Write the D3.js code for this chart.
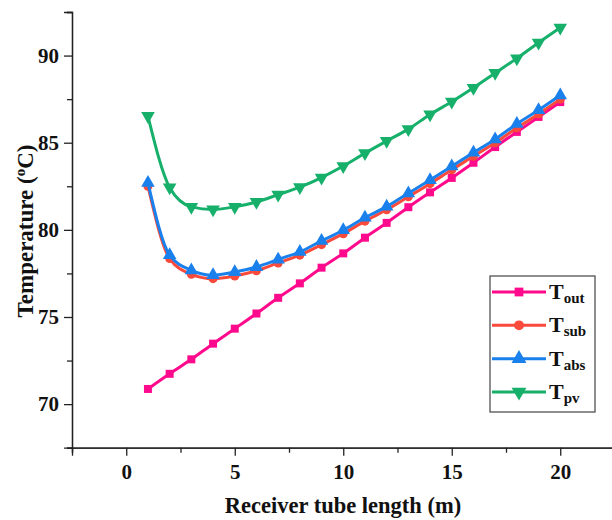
<!DOCTYPE html>
<html>
<head>
<meta charset="utf-8">
<script src="https://cdn.jsdelivr.net/npm/d3@7"></script>
<style>
  html, body { margin: 0; padding: 0; background: #fff; }
  svg { display: block; }
  text { font-family: "Liberation Serif", "Times New Roman", serif; font-weight: bold; fill: #111; }
</style>
</head>
<body>
<svg id="chart" width="612" height="520"></svg>
<script>
// ---- data ----
const lengths = [1,2,3,4,5,6,7,8,9,10,11,12,13,14,15,16,17,18,19,20];
const tOut = [70.87,71.74,72.57,73.47,74.33,75.2,76.1,76.93,77.83,78.65,79.55,80.4,81.3,82.15,82.98,83.85,84.75,85.62,86.48,87.33];
const tSub = [82.5,78.35,77.45,77.2,77.35,77.65,78.1,78.55,79.15,79.78,80.5,81.15,81.9,82.65,83.45,84.22,85.0,85.85,86.65,87.5];
const tAbs = [82.7,78.55,77.68,77.4,77.58,77.87,78.3,78.74,79.37,79.98,80.7,81.33,82.1,82.86,83.65,84.43,85.2,86.08,86.87,87.72];
const tPv  = [86.53,82.43,81.32,81.17,81.32,81.6,82.02,82.45,83.0,83.66,84.4,85.1,85.78,86.62,87.35,88.15,89.0,89.84,90.74,91.6];
const seriesNames = ["out","sub","abs","pv"];
const xMajorTicks = [0,5,10,15,20];
const xMinorTicks = [-2.5,2.5,7.5,12.5,17.5,22.5];
const yMajorTicks = [70,75,80,85,90];
const yMinorTicks = [67.5,72.5,77.5,82.5,87.5,92.5];
const xLabel = "Receiver tube length (m)";

// ---- styles ----
const colors = ["#ff0a8c", "#f94a3c", "#1a80ec", "#16b06b"];
const shapes = [d3.symbolSquare, d3.symbolCircle, d3.symbolTriangle, d3.symbolTriangle];
const sizes = [64, 64, 80, 80];
const rotations = [0, 0, 0, 180];

const svg = d3.select("#chart");
const x = d3.scaleLinear().domain([-2.5, 22.5]).range([72, 614.5]);
const y = d3.scaleLinear().domain([67.5, 92.5]).range([447.7, 12]);

// axes
const gx = svg.append("g").attr("transform", `translate(0,${y(67.5)})`);
gx.call(d3.axisBottom(x).tickValues(xMinorTicks).tickSize(5).tickFormat(""));
gx.call(g => g.append("g").call(d3.axisBottom(x).tickValues(xMajorTicks).tickSize(8).tickPadding(8)));
const gy = svg.append("g").attr("transform", `translate(${x(-2.5)},0)`);
gy.call(d3.axisLeft(y).tickValues(yMinorTicks).tickSize(5).tickFormat(""));
gy.call(g => g.append("g").call(d3.axisLeft(y).tickValues(yMajorTicks).tickSize(8).tickPadding(5)));
svg.selectAll(".domain").attr("stroke", "#222").attr("stroke-width", 1.3);
svg.selectAll(".tick line").attr("stroke", "#222").attr("stroke-width", 1.3);
svg.selectAll(".tick text").style("font-size", "21px").style("font-family", "Liberation Serif, serif").style("font-weight", "bold").attr("fill", "#111");

// axis titles
svg.append("text").attr("x", 343).attr("y", 513).attr("text-anchor", "middle")
  .style("font-size", "22.5px").text(xLabel);
const yt = svg.append("text").attr("transform", "translate(33,231) rotate(-90)")
  .attr("text-anchor", "middle").style("font-size", "23px");
yt.append("tspan").text("Temperature (");
yt.append("tspan").attr("dy", -8).style("font-size", "15px").text("o");
yt.append("tspan").attr("dy", 8).text("C)");

// series
const allSeries = [tOut, tSub, tAbs, tPv];
const line = d3.line().x((d, i) => x(lengths[i])).y(d => y(d)).curve(d3.curveMonotoneX);
allSeries.forEach((vals, k) => {
  const g = svg.append("g");
  g.append("path").datum(vals).attr("d", line).attr("fill", "none")
    .attr("stroke", colors[k]).attr("stroke-width", 3);
  g.selectAll("path.m").data(vals).join("path").attr("class", "m")
    .attr("d", d3.symbol().type(shapes[k]).size(sizes[k]))
    .attr("transform", (d, i) => `translate(${x(lengths[i])},${y(d)}) rotate(${rotations[k]})`)
    .attr("fill", colors[k]);
});

// legend
const lg = svg.append("g");
lg.append("rect").attr("x", 490).attr("y", 276).attr("width", 105).attr("height", 136)
  .attr("fill", "#fff").attr("stroke", "#444").attr("stroke-width", 1.2);
const legendY = d3.scalePoint().domain(seriesNames).range([292, 392]);
seriesNames.forEach((name, k) => {
  const yy = legendY(name);
  lg.append("line").attr("x1", 492).attr("x2", 546).attr("y1", yy).attr("y2", yy)
    .attr("stroke", colors[k]).attr("stroke-width", 3);
  lg.append("path").attr("d", d3.symbol().type(shapes[k]).size(sizes[k] * 1.2)())
    .attr("transform", `translate(519,${yy}) rotate(${rotations[k]})`).attr("fill", colors[k]);
  const t = lg.append("text").attr("x", 549).attr("y", yy + 7).style("font-size", "22px");
  t.append("tspan").text("T");
  t.append("tspan").attr("dy", 4).style("font-size", "15px").text(name);
});
</script>
</body>
</html>
